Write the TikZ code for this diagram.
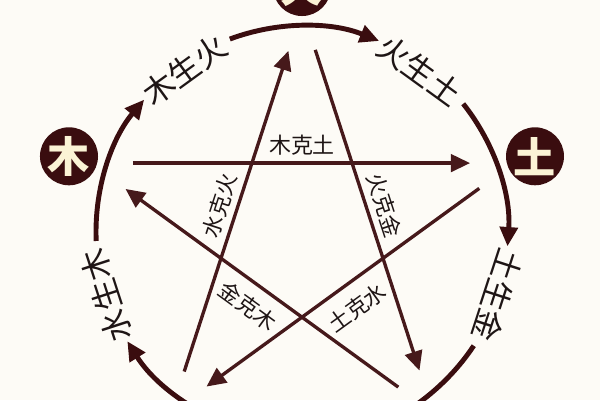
\documentclass[tikz,border=0pt]{standalone}
\usepackage{fontspec}
\newfontfamily\cjk{Noto Sans CJK SC}
\usetikzlibrary{arrows.meta}
\definecolor{wxred}{HTML}{3A0D0F}
\definecolor{wxline}{HTML}{46191B}
\definecolor{wxtext}{HTML}{1E1515}
\definecolor{wxcream}{HTML}{FBF3D5}
\definecolor{wxpaper}{HTML}{FDFBF6}

\begin{document}
\begin{tikzpicture}[x=0.02cm, y=0.02cm, font=\cjk,
  element/.style={circle, fill=wxred, text=wxcream, inner sep=0pt,
    minimum size=1.16cm, font=\cjk\bfseries\fontsize{24}{24}\selectfont},
  genarc/.style={wxred, line width=2.8pt, -{Triangle[length=11pt, width=10pt]}},
  kearrow/.style={wxline, line width=1.9pt, -{Triangle[length=11pt, width=10pt]},
    shorten <=0.86cm, shorten >=0.88cm},
  genlabel/.style={text=wxtext, font=\cjk\fontsize{18}{18}\selectfont},
  kelabel/.style={text=wxtext, sloped, midway, font=\cjk\fontsize{12.5}{12.5}\selectfont}]
  % Paper, cut to the frame
  \useasboundingbox (-302,-168) rectangle (298,232);
  \fill[wxpaper] (-302,-168) rectangle (298,232);
  \clip (-302,-168) rectangle (298,232);
  % Corners of the star (ke cycle)
  \foreach \n/\a in {huo/90, mu/162, tu/18, jin/-54, shui/234}
    \coordinate (\n) at (\a:223);
  % The elements
  \node[element] (huoE) at (90:245) {火};
  \node[element] (muE) at (162:245) {木};
  \node[element] (tuE) at (18:245) {土};
  % Sheng cycle: one arc round each element
  \foreach \a in {90, 162, 18, -54, 234}
    \draw[genarc] ({\a+20.5}:206) arc[start angle=\a+20.5, end angle=\a-22, radius=206];
  \node[genlabel, rotate=36] (muHuo) at (126:200) {木生火};
  \node[genlabel, rotate=-36] (huoTu) at (54:200) {火生土};
  \node[genlabel, rotate=-108] (tuJin) at (-18:206) {土生金};
  \node[genlabel, rotate=108] (shuiMu) at (198:206) {水生木};
  % Ke cycle: the star
  \draw[kearrow] (mu) -- node[kelabel, above] (muTu) {木克土} (tu);
  \draw[kearrow] (huo) -- node[kelabel, above] (huoJin) {火克金} (jin);
  \draw[kearrow] (tu) -- node[kelabel, below=4pt] (tuShui) {土克水} (shui);
  \draw[kearrow] (jin) -- node[kelabel, below=3pt] (jinMu) {金克木} (mu);
  \draw[kearrow] (shui) -- node[kelabel, above] (shuiHuo) {水克火} (huo);
\end{tikzpicture}
\end{document}
